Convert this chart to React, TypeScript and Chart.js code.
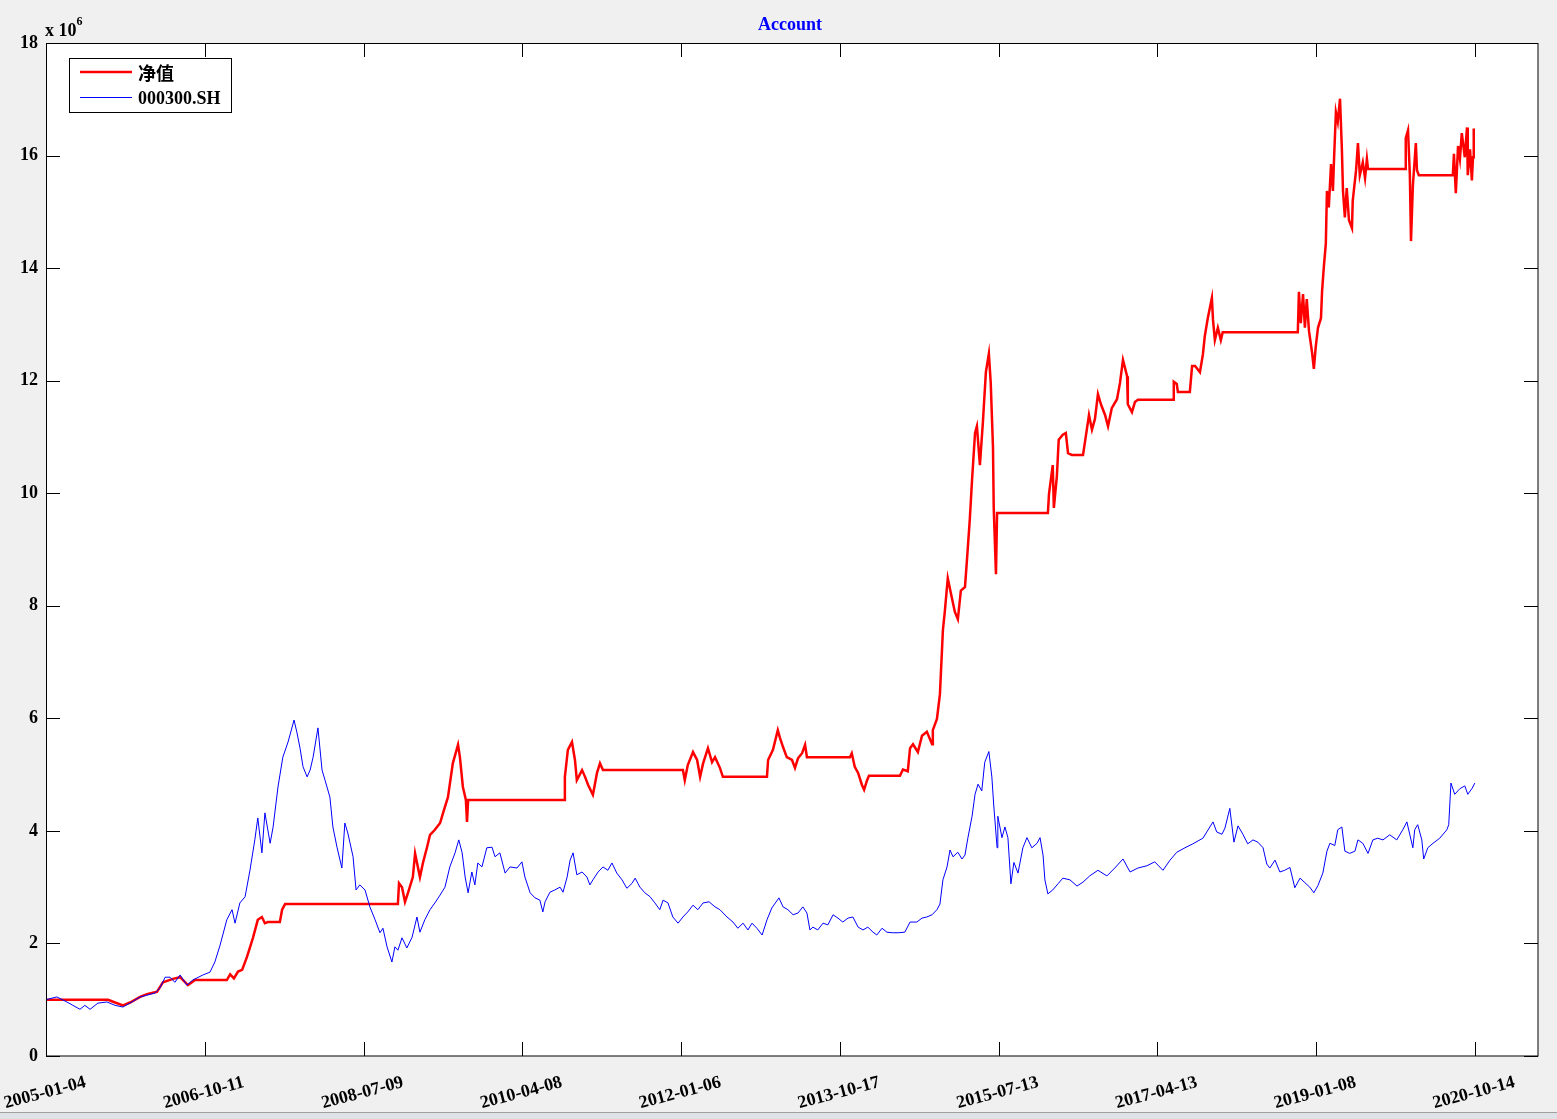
import React, { useEffect, useRef } from 'react';
import { Chart, registerables } from 'chart.js';

Chart.register(...registerables);

// x axis = trading-day index since 2005-01-04; a labelled tick every 425 trading days
const xTickLabels = [
  '2005-01-04', '2006-10-11', '2008-07-09', '2010-04-08', '2012-01-06',
  '2013-10-17', '2015-07-13', '2017-04-13', '2019-01-08', '2020-10-14',
];
const xTickStep = 425;
const xMax = 3994;
const yMin = 0;
const yMax = 18;
const yStep = 2;

const titleText = 'Account';
const navLabel = '净值';
const indexLabel = '000300.SH';

// [trading-day index, value in millions]
const navPoints: [number, number][] = [
  [0,1.00],[166,1.00],[185,0.95],[206,0.90],[225,0.95],[252,1.05],[270,1.10],[297,1.14],[313,1.31],[340,1.37],[359,1.40],[380,1.26],[399,1.35],[484,1.35],[493,1.45],[503,1.38],[514,1.50],[525,1.53],[538,1.76],[554,2.10],[567,2.42],[578,2.47],[586,2.36],[594,2.38],[626,2.38],[632,2.60],[640,2.70],
  [942,2.70],[945,3.07],[953,3.00],[961,2.74],[969,2.90],[982,3.18],[988,3.60],[1001,3.18],[1009,3.43],[1020,3.71],[1028,3.93],[1041,4.02],[1055,4.14],[1063,4.32],[1076,4.60],[1089,5.20],[1103,5.53],[1108,5.31],[1116,4.78],[1124,4.55],[1127,4.16],[1130,4.55],
  [1387,4.55],[1389,4.96],[1397,5.44],[1408,5.58],[1416,5.26],[1421,4.90],[1435,5.08],[1443,4.96],[1451,4.82],[1464,4.64],[1475,5.03],[1483,5.20],[1491,5.08],[1502,5.08],
  [1705,5.08],[1710,4.90],[1718,5.17],[1732,5.40],[1743,5.26],[1751,4.96],[1759,5.20],[1772,5.47],[1783,5.22],[1791,5.31],[1804,5.12],[1812,4.96],
  [1930,4.96],[1933,5.26],[1946,5.44],[1959,5.79],[1965,5.65],[1973,5.49],[1983,5.31],[1997,5.26],[2005,5.12],[2013,5.29],[2024,5.38],[2032,5.53],[2037,5.31],
  [2152,5.31],[2157,5.38],[2165,5.14],[2174,5.03],[2184,4.82],[2190,4.73],[2198,4.90],[2203,4.98],
  [2286,4.98],[2294,5.09],[2307,5.06],[2313,5.47],[2321,5.54],[2334,5.40],[2345,5.69],[2358,5.76],[2372,5.54],[2374,5.79],[2385,5.99],[2393,6.43],[2401,7.57],[2406,7.89],[2414,8.49],[2425,8.14],[2433,7.89],[2441,7.76],[2449,8.27],[2460,8.33],[2465,8.78],[2473,9.54],[2479,10.24],[2487,11.07],[2492,11.19],[2500,10.50],[2508,11.26],[2516,12.15],[2524,12.48],[2529,11.96],[2535,10.82],[2537,9.74],[2543,8.56],[2546,9.65],
  [2682,9.65],[2685,9.99],[2695,10.50],[2698,9.74],[2706,10.30],[2711,10.95],[2722,11.04],[2730,11.07],[2736,10.71],[2746,10.68],[2776,10.68],[2781,10.90],[2792,11.39],[2800,11.13],[2808,11.32],[2816,11.76],[2824,11.58],[2835,11.39],[2843,11.19],[2853,11.51],[2867,11.67],[2875,11.96],[2883,12.37],[2894,12.08],[2896,11.58],[2907,11.44],[2915,11.62],[2923,11.66],
  [3017,11.66],[3019,11.98],[3027,11.94],[3030,11.80],[3062,11.80],[3068,12.26],[3076,12.26],[3089,12.15],[3097,12.47],[3102,12.79],[3110,13.11],[3121,13.47],[3124,13.08],[3129,12.72],[3137,12.94],[3145,12.72],[3150,12.86],
  [3351,12.86],[3354,13.58],[3359,13.02],[3365,13.54],[3370,12.94],[3375,13.45],[3381,12.88],[3389,12.51],[3394,12.21],[3399,12.60],[3405,12.94],[3413,13.11],[3416,13.59],[3421,14.05],[3426,14.43],[3429,15.37],[3434,15.08],[3440,15.85],[3445,15.37],[3448,15.94],[3453,16.77],[3458,16.60],[3464,17.01],[3469,16.11],[3472,15.37],[3477,14.90],[3482,15.42],[3488,14.85],[3496,14.71],[3498,15.19],[3507,15.74],[3512,16.22],[3517,15.65],[3525,15.88],[3531,15.60],[3536,15.94],[3539,15.76],
  [3638,15.76],[3640,16.31],[3646,16.45],[3651,15.65],[3654,14.48],[3659,15.46],[3667,16.22],[3670,15.74],[3675,15.65],
  [3766,15.65],[3769,16.03],[3774,15.33],[3780,16.17],[3785,15.94],[3790,16.40],[3798,15.97],[3804,16.50],[3806,15.65],[3812,16.11],[3817,15.56],[3820,15.97],[3822,16.48],
];

const indexPoints: [number, number][] = [
  [0,1.00],[29,1.05],[56,0.96],[72,0.90],[91,0.83],[104,0.90],[118,0.83],[139,0.94],[163,0.96],[185,0.90],[206,0.87],[230,0.96],[252,1.05],[270,1.08],[292,1.12],[305,1.21],[319,1.40],[332,1.40],[345,1.31],[359,1.44],[377,1.26],[393,1.35],[420,1.44],[439,1.49],[452,1.67],[466,1.97],[484,2.42],[498,2.60],[506,2.36],[519,2.72],[533,2.83],[546,3.30],[559,3.84],[567,4.23],[578,3.61],[586,4.32],[600,3.78],[608,4.07],[621,4.78],[634,5.31],[648,5.58],[664,5.97],[672,5.74],[680,5.47],[688,5.14],[699,4.96],[707,5.08],[715,5.31],[728,5.83],[739,5.08],[747,4.90],[760,4.60],[768,4.07],[779,3.71],[792,3.34],[800,4.14],[808,3.96],[822,3.54],[830,2.95],[840,3.04],[854,2.95],[867,2.65],[881,2.42],[894,2.19],[902,2.27],[913,1.94],[926,1.67],[934,1.94],[942,1.88],[953,2.10],[966,1.92],[980,2.11],[993,2.47],[1001,2.20],[1014,2.42],[1028,2.60],[1041,2.72],[1055,2.86],[1068,3.00],[1081,3.36],[1095,3.61],[1105,3.84],[1114,3.61],[1122,3.18],[1130,2.90],[1140,3.27],[1148,3.04],[1156,3.43],[1167,3.36],[1180,3.70],[1194,3.71],[1202,3.54],[1215,3.61],[1229,3.25],[1242,3.36],[1261,3.34],[1274,3.45],[1282,3.18],[1296,2.90],[1309,2.81],[1322,2.77],[1330,2.56],[1336,2.74],[1349,2.91],[1362,2.95],[1376,3.00],[1384,2.91],[1395,3.18],[1403,3.48],[1411,3.61],[1421,3.22],[1435,3.27],[1448,3.18],[1456,3.04],[1464,3.13],[1478,3.27],[1491,3.36],[1504,3.30],[1515,3.43],[1528,3.25],[1542,3.13],[1555,2.98],[1569,3.07],[1577,3.16],[1590,3.00],[1603,2.90],[1617,2.83],[1630,2.72],[1643,2.60],[1652,2.77],[1665,2.72],[1678,2.47],[1692,2.36],[1705,2.47],[1718,2.56],[1732,2.68],[1745,2.60],[1759,2.72],[1775,2.74],[1791,2.65],[1804,2.60],[1823,2.47],[1839,2.38],[1852,2.27],[1866,2.36],[1879,2.24],[1890,2.36],[1903,2.27],[1917,2.15],[1930,2.42],[1943,2.63],[1962,2.81],[1973,2.65],[1986,2.60],[2000,2.51],[2013,2.54],[2026,2.65],[2037,2.54],[2045,2.24],[2053,2.29],[2066,2.24],[2080,2.36],[2093,2.33],[2107,2.51],[2120,2.45],[2133,2.38],[2147,2.45],[2160,2.47],[2174,2.29],[2187,2.24],[2200,2.29],[2214,2.20],[2224,2.15],[2238,2.27],[2251,2.20],[2265,2.19],[2281,2.19],[2299,2.20],[2313,2.38],[2331,2.38],[2345,2.45],[2358,2.47],[2372,2.51],[2385,2.60],[2393,2.70],[2401,3.13],[2412,3.36],[2420,3.66],[2428,3.54],[2441,3.62],[2452,3.50],[2460,3.57],[2468,3.88],[2479,4.26],[2487,4.65],[2495,4.83],[2505,4.71],[2513,5.22],[2524,5.41],[2532,4.96],[2537,4.46],[2546,3.70],[2548,4.26],[2559,3.88],[2567,4.07],[2575,3.88],[2583,3.06],[2591,3.44],[2602,3.25],[2615,3.70],[2626,3.88],[2639,3.70],[2653,3.78],[2661,3.88],[2669,3.57],[2674,3.13],[2682,2.88],[2695,2.95],[2709,3.06],[2722,3.16],[2741,3.13],[2760,3.02],[2776,3.09],[2794,3.20],[2816,3.30],[2840,3.20],[2861,3.34],[2883,3.50],[2902,3.27],[2923,3.34],[2947,3.38],[2968,3.45],[2990,3.30],[3009,3.48],[3027,3.62],[3049,3.70],[3070,3.77],[3097,3.87],[3124,4.16],[3134,3.98],[3148,3.94],[3156,4.05],[3169,4.40],[3180,3.80],[3191,4.09],[3204,3.94],[3217,3.77],[3231,3.84],[3244,3.80],[3258,3.70],[3268,3.41],[3276,3.34],[3290,3.48],[3303,3.27],[3316,3.30],[3330,3.35],[3343,2.99],[3357,3.16],[3370,3.08],[3383,3.00],[3394,2.90],[3405,3.03],[3418,3.25],[3429,3.64],[3437,3.78],[3450,3.74],[3458,4.02],[3469,4.07],[3477,3.64],[3490,3.60],[3504,3.64],[3512,3.84],[3525,3.78],[3539,3.60],[3552,3.84],[3565,3.87],[3579,3.84],[3597,3.93],[3616,3.84],[3632,4.02],[3643,4.16],[3651,3.93],[3659,3.70],[3664,4.02],[3672,4.11],[3683,3.84],[3688,3.50],[3699,3.70],[3713,3.78],[3731,3.87],[3750,4.02],[3755,4.11],[3761,4.85],[3771,4.65],[3785,4.75],[3798,4.80],[3806,4.65],[3817,4.75],[3825,4.85],
];

const SERIF = "'Liberation Serif', 'Times New Roman', 'Noto Sans CJK SC', serif";
const NAV_COLOR = '#ff0000';
const INDEX_COLOR = '#0000ff';

const matlabFrame = {
  id: 'matlabFrame',
  beforeDraw(chart: any) {
    const { ctx, chartArea: a } = chart;
    ctx.save();
    ctx.fillStyle = '#f0f0f0';
    ctx.fillRect(0, 0, chart.width, chart.height);
    ctx.fillStyle = '#ffffff';
    ctx.fillRect(a.left, a.top, a.right - a.left, a.bottom - a.top);
    ctx.restore();
  },
  afterDraw(chart: any) {
    const { ctx, chartArea: a, scales } = chart;
    const xs = scales.x;
    const ys = scales.y;
    const TL = 14;
    ctx.save();
    ctx.strokeStyle = '#000';
    ctx.lineWidth = 1;
    // box
    ctx.strokeRect(a.left + 0.5, a.top + 0.5, a.right - a.left - 0.5, a.bottom - a.top - 0.5);
    ctx.beginPath();
    xTickLabels.forEach((_, i) => {
      const px = Math.round(xs.getPixelForValue(i * xTickStep)) + 0.5;
      ctx.moveTo(px, a.bottom);
      ctx.lineTo(px, a.bottom - TL);
      ctx.moveTo(px, a.top);
      ctx.lineTo(px, a.top + TL);
    });
    for (let v = yMin; v <= yMax; v += yStep) {
      const py = Math.round(ys.getPixelForValue(v)) + 0.5;
      ctx.moveTo(a.left, py);
      ctx.lineTo(a.left + TL, py);
      ctx.moveTo(a.right, py);
      ctx.lineTo(a.right - TL, py);
    }
    ctx.stroke();

    // x tick labels, rotated
    ctx.fillStyle = '#000';
    ctx.font = `bold 18px ${SERIF}`;
    ctx.textAlign = 'center';
    ctx.textBaseline = 'middle';
    xTickLabels.forEach((lab, i) => {
      const px = xs.getPixelForValue(i * xTickStep);
      ctx.save();
      ctx.translate(px - 1, a.bottom + 37);
      ctx.rotate((-15 * Math.PI) / 180);
      ctx.fillText(lab, 0, 0);
      ctx.restore();
    });

    // exponent label
    ctx.textAlign = 'left';
    ctx.textBaseline = 'alphabetic';
    ctx.font = `bold 18px ${SERIF}`;
    ctx.fillText('x 10', a.left - 1, 36);
    const w = ctx.measureText('x 10').width;
    ctx.font = `bold 12px ${SERIF}`;
    ctx.fillText('6', a.left - 1 + w, 25);

    // title
    ctx.fillStyle = '#0000ff';
    ctx.font = `bold 18px ${SERIF}`;
    ctx.textAlign = 'center';
    ctx.textBaseline = 'middle';
    ctx.fillText(titleText, (a.left + a.right) / 2 - 2, 25);

    // legend
    const lx = 69, ly = 58, lw = 162, lh = 54;
    ctx.fillStyle = '#fff';
    ctx.fillRect(lx, ly, lw, lh);
    ctx.strokeStyle = '#000';
    ctx.lineWidth = 1;
    ctx.strokeRect(lx + 0.5, ly + 0.5, lw, lh);
    ctx.lineCap = 'butt';
    ctx.strokeStyle = NAV_COLOR;
    ctx.lineWidth = 2.5;
    ctx.beginPath();
    ctx.moveTo(80, 72);
    ctx.lineTo(132, 72);
    ctx.stroke();
    ctx.strokeStyle = INDEX_COLOR;
    ctx.lineWidth = 1;
    ctx.beginPath();
    ctx.moveTo(80, 97.5);
    ctx.lineTo(132, 97.5);
    ctx.stroke();
    ctx.fillStyle = '#000';
    ctx.textAlign = 'left';
    ctx.textBaseline = 'middle';
    ctx.font = `bold 18px 'Noto Sans CJK SC', sans-serif`;
    ctx.fillText(navLabel, 138, 73);
    ctx.font = `bold 18px ${SERIF}`;
    ctx.fillText(indexLabel, 138, 99);
    ctx.restore();
  },
};

export default function App() {
  const ref = useRef<HTMLCanvasElement>(null);
  useEffect(() => {
    if (!ref.current) return;
    const chart = new Chart(ref.current, {
      type: 'line',
      data: {
        datasets: [
          {
            label: navLabel,
            data: navPoints.map(([x, y]) => ({ x, y })),
            borderColor: NAV_COLOR,
            backgroundColor: NAV_COLOR,
            borderWidth: 2.5,
            pointRadius: 0,
            tension: 0,
            order: 1,
          },
          {
            label: indexLabel,
            data: indexPoints.map(([x, y]) => ({ x, y })),
            borderColor: INDEX_COLOR,
            backgroundColor: INDEX_COLOR,
            borderWidth: 1,
            pointRadius: 0,
            tension: 0,
            order: 0,
          },
        ],
      },
      options: {
        responsive: false,
        animation: false,
        devicePixelRatio: 1,
        layout: { padding: { left: 0, top: 43, right: 19, bottom: 0 } },
        plugins: {
          legend: { display: false },
          tooltip: { enabled: false },
          title: { display: false },
        },
        scales: {
          x: {
            type: 'linear',
            min: 0,
            max: xMax,
            ticks: { display: false },
            grid: { display: false, drawTicks: false },
            border: { display: false },
            afterFit: (s: any) => { s.height = 63; },
          },
          y: {
            type: 'linear',
            min: yMin,
            max: yMax,
            ticks: {
              stepSize: yStep,
              padding: 8,
              color: '#000',
              font: { family: SERIF, size: 18, weight: 'bold' },
            },
            grid: { display: false, drawTicks: false },
            border: { display: false },
            afterFit: (s: any) => { s.width = 46; },
          },
        },
      } as any,
      plugins: [matlabFrame],
    });
    return () => chart.destroy();
  }, []);

  return (
    <div style={{ position: 'fixed', left: 0, top: 0, width: 1557, height: 1119, background: '#f0f0f0', overflow: 'hidden' }}>
      <canvas ref={ref} width={1557} height={1119} style={{ display: 'block', width: 1557, height: 1119 }} />
      <div style={{ position: 'absolute', left: 0, top: 1112, width: 1557, height: 1, background: '#a0a0a0' }} />
      <div style={{ position: 'absolute', left: 0, top: 1113, width: 1557, height: 6, background: '#dfe3e8' }} />
    </div>
  );
}
